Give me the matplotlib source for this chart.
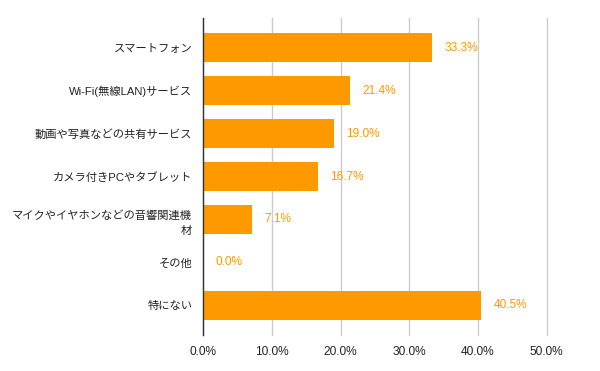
import matplotlib
matplotlib.use("Agg")
import matplotlib.pyplot as plt
from matplotlib.ticker import FixedLocator, FuncFormatter

plt.rcParams['font.family'] = ['Liberation Sans', 'Noto Sans CJK JP', 'DejaVu Sans']

categories = [
    "スマートフォン",
    "Wi-Fi(無線LAN)サービス",
    "動画や写真などの共有サービス",
    "カメラ付きPCやタブレット",
    "マイクやイヤホンなどの音響関連機\n材",
    "その他",
    "特にない",
]
values = [33.3, 21.4, 19.0, 16.7, 7.1, 0.0, 40.5]
x_ticks = [0, 10, 20, 30, 40, 50]

bar_color = "#ff9900"
label_color = "#ff9900"
text_color = "#222222"

fig = plt.figure(figsize=(6.0, 3.71), dpi=100)
ax = fig.add_axes([203.3 / 600, 1 - 335 / 371, (546.7 - 203.3) / 600, (335 - 18) / 371])

y = list(range(len(categories)))
ax.barh(y, values, height=0.66, color=bar_color, zorder=3)

ax.set_xlim(0, 50)
ax.set_ylim(len(categories) - 1 + 0.69, -0.69)

ax.xaxis.set_major_locator(FixedLocator(x_ticks))
ax.xaxis.set_major_formatter(FuncFormatter(lambda v, p: f"{v:.1f}%"))
ax.set_yticks(y)
ax.set_yticklabels(categories, linespacing=1.6)

ax.grid(axis='x', color='#cccccc', linewidth=1.0, zorder=0)
for gl in ax.get_xgridlines():
    gl.set_clip_on(False)
ax.set_axisbelow(True)
for s in ['top', 'right', 'bottom']:
    ax.spines[s].set_visible(False)
ax.spines['left'].set_color('#333333')
ax.spines['left'].set_linewidth(1.0)
ax.spines['left'].set_zorder(4)

ax.tick_params(axis='x', length=0, labelsize=8.6, colors=text_color, pad=8)
ax.tick_params(axis='y', length=0, labelsize=8.1, colors=text_color, pad=8)

for yi, v in zip(y, values):
    ax.annotate(f"{v:.1f}%", xy=(v, yi), xytext=(9, 0), textcoords='offset points',
                ha='left', va='center', fontsize=8.6, color=label_color)

fig.savefig("out.png", dpi=100)
